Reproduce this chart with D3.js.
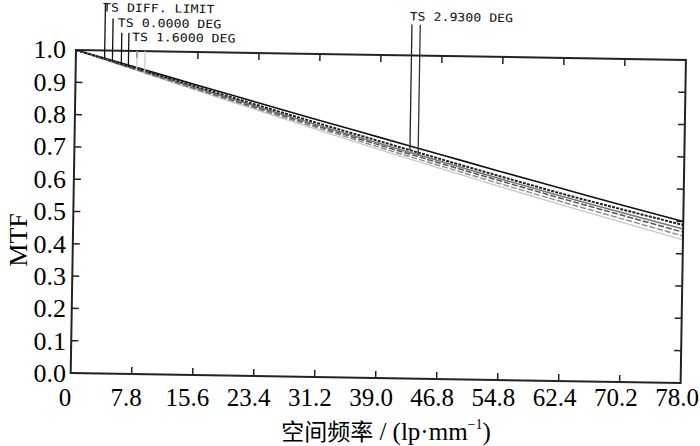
<!DOCTYPE html>
<html><head><meta charset="utf-8">
<script src="https://cdn.jsdelivr.net/npm/d3@7"></script>
<style>body{margin:0;background:#fff}svg{display:block}</style>
</head><body>
<svg id="c" width="700" height="446"></svg>
<script>
// ---- data ----
const freqs = [0, 7.8, 15.6, 23.4, 31.2, 39.0, 46.8, 54.6, 62.4, 70.2, 78.0];
const xTickLabels = ["0","7.8","15.6","23.4","31.2","39.0","46.8","54.8","62.4","70.2","78.0"];
const yTicks = [0,0.1,0.2,0.3,0.4,0.5,0.6,0.7,0.8,0.9,1.0];
const yTickLabels = ["0.0","0.1","0.2","0.3","0.4","0.5","0.6","0.7","0.8","0.9","1.0"];
const diffLimit = [1.0, 0.949, 0.897, 0.846, 0.795, 0.745, 0.695, 0.645, 0.596, 0.547, 0.500];
const deg0     = [1.0, 0.946, 0.892, 0.838, 0.785, 0.733, 0.681, 0.630, 0.580, 0.534, 0.489];
const deg16T   = [1.0, 0.944, 0.888, 0.833, 0.779, 0.726, 0.674, 0.622, 0.572, 0.524, 0.477];
const deg16S   = [1.0, 0.943, 0.886, 0.830, 0.775, 0.721, 0.668, 0.616, 0.565, 0.516, 0.467];
const deg293S  = [1.0, 0.941, 0.883, 0.826, 0.770, 0.714, 0.660, 0.607, 0.555, 0.505, 0.455];
const deg293T  = [1.0, 0.940, 0.880, 0.822, 0.764, 0.707, 0.652, 0.598, 0.545, 0.494, 0.443];
const seriesNames = ["TS DIFF. LIMIT","TS 0.0000 DEG","TS 1.6000 DEG","TS 2.9300 DEG"];

const series = [
  {v: diffLimit, color:"#111", w:1.6, dash:null},
  {v: deg293T, color:"#c8c8c8", w:1.3, dash:null},
  {v: deg293S, color:"#8a8a8a", w:1.4, dash:"6,2"},
  {v: deg16S, color:"#555", w:1.5, dash:"6,2"},
  {v: deg16T, color:"#777", w:1.5, dash:null},
  {v: deg0, color:"#222", w:2.0, dash:"3,1.2"}
];

const svg = d3.select("#c");
const W = 610, H = 323;
const x = d3.scaleLinear().domain([0,78]).range([0,W]);
const y = d3.scaleLinear().domain([0,1]).range([H,0]);

// labels outside (horizontal)
const xl = d3.scaleLinear().domain([0,78]).range([65,677]);
const yl = d3.scaleLinear().domain([0,1]).range([373,49]);
const serif = "'Liberation Serif','Times New Roman',serif";

svg.append("g").selectAll("text").data(yTicks).join("text")
  .attr("x",66).attr("y",d=>yl(d)).attr("dy","0.35em")
  .attr("text-anchor","end").attr("font-family",serif).attr("font-size",26)
  .text((d,i)=>yTickLabels[i]);
svg.append("g").selectAll("text").data(freqs).join("text")
  .attr("x",d=>xl(d)).attr("y",406)
  .attr("text-anchor","middle").attr("font-family",serif).attr("font-size",25)
  .text((d,i)=>xTickLabels[i]);
svg.append("text").attr("transform","translate(27,240) rotate(-90)")
  .attr("text-anchor","middle").attr("font-family",serif).attr("font-size",26).text("MTF");
const tt = svg.append("text").attr("x",386).attr("y",440).attr("text-anchor","middle")
  .attr("font-family",serif).attr("font-size",25);
tt.append("tspan").attr("font-family","'Noto Sans CJK SC',sans-serif").attr("font-size",23).text("空间频率");
tt.append("tspan").text(" / (lp·mm");
tt.append("tspan").attr("font-size",14).attr("dy",-11).text("−1");
tt.append("tspan").attr("dy",11).text(")");

// rotated plot
const g = svg.append("g").attr("transform","translate(76,50) rotate(0.94)");

const line = d3.line().x((d,i)=>x(freqs[i])).y(d=>y(d)).curve(d3.curveMonotoneX);
series.forEach(s=>{
  g.append("path").attr("d",line(s.v)).attr("fill","none")
   .attr("stroke",s.color).attr("stroke-width",s.w)
   .attr("stroke-dasharray",s.dash);
});

// frame
g.append("rect").attr("x",0).attr("y",0).attr("width",W).attr("height",H)
 .attr("fill","none").attr("stroke","#222").attr("stroke-width",2);
const tk = 7;
g.append("g").selectAll("line").data(yTicks.slice(1,-1)).join("line")
 .attr("x1",0).attr("x2",tk).attr("y1",d=>y(d)).attr("y2",d=>y(d)).attr("stroke","#222").attr("stroke-width",1.5);
g.append("g").selectAll("line").data(yTicks.slice(1,-1)).join("line")
 .attr("x1",W).attr("x2",W-tk).attr("y1",d=>y(d)).attr("y2",d=>y(d)).attr("stroke","#222").attr("stroke-width",1.5);
g.append("g").selectAll("line").data(freqs.slice(1,-1)).join("line")
 .attr("x1",d=>x(d)).attr("x2",d=>x(d)).attr("y1",0).attr("y2",tk).attr("stroke","#222").attr("stroke-width",1.5);
g.append("g").selectAll("line").data(freqs.slice(1,-1)).join("line")
 .attr("x1",d=>x(d)).attr("x2",d=>x(d)).attr("y1",H).attr("y2",H-tk).attr("stroke","#222").attr("stroke-width",1.5);

// annotations
const interp = (arr,f)=>{ const i=Math.min(Math.floor(f/7.8),9); const t=(f-freqs[i])/7.8; return arr[i]+(arr[i+1]-arr[i])*t; };
const labels = [
  {t:seriesNames[0], f:3.38, yb:-39},
  {t:seriesNames[1], f:5.3, yb:-24},
  {t:seriesNames[2], f:7.15, yb:-10},
  {t:seriesNames[3], f:42.6, yb:-35}
];
const mono = "'DejaVu Sans Mono','Liberation Mono',monospace";
g.append("g").selectAll("text").data(labels).join("text")
 .attr("x",d=>x(d.f)).attr("y",d=>d.yb)
 .attr("font-family",mono).attr("font-size",11.5).attr("textLength",d=>d.t.length*7.95)
 .attr("lengthAdjust","spacingAndGlyphs")
 .attr("fill","#111").text(d=>d.t);
const leaders = [
  {f:3.67, y0:-47, arr:diffLimit, c:"#111"},
  {f:4.68, y0:-32, arr:deg0, c:"#111"},
  {f:5.82, y0:-18, arr:deg16T, c:"#111"},
  {f:6.73, y0:-18, arr:deg16S, c:"#111"},
  {f:7.81, y0:0, arr:deg293T, c:"#ccc"},
  {f:8.83, y0:0, arr:deg293S, c:"#ccc"},
  {f:42.9, y0:-31, arr:deg0, c:"#222"},
  {f:43.96, y0:-31, arr:deg16T, c:"#333"}
];
g.append("g").selectAll("line").data(leaders).join("line")
 .attr("x1",d=>x(d.f)).attr("x2",d=>x(d.f)).attr("y1",d=>d.y0).attr("y2",d=>y(interp(d.arr,d.f)))
 .attr("stroke",d=>d.c).attr("stroke-width",1.3);
</script>
</body></html>
